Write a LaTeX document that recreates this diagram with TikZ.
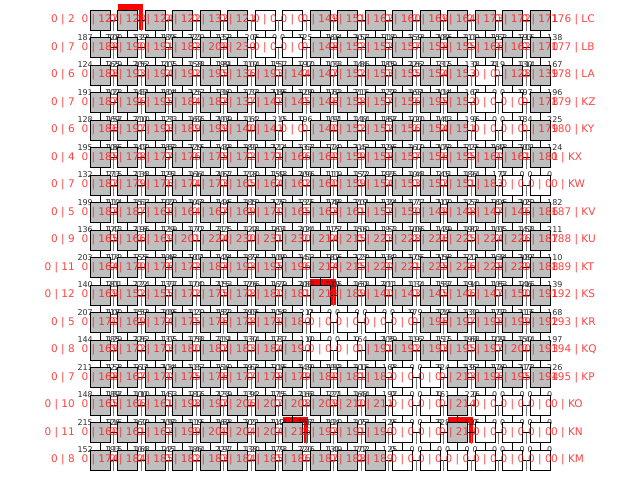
\documentclass[tikz,border=0pt]{standalone}
\usepackage{fontspec}
\setmainfont{DejaVu Sans}
\usetikzlibrary{calc}
\definecolor{boxgray}{RGB}{191,191,191}
\definecolor{labred}{RGB}{255,20,20}
\definecolor{numgray}{RGB}{45,45,45}
\definecolor{tickgray}{RGB}{120,120,120}
\begin{document}
\begin{tikzpicture}[x=1pt,y=-1pt,
  cellbox/.style={draw=black,line width=1pt,minimum size=20pt,inner sep=0pt,outer sep=0pt},
  c1/.style={fill=boxgray}, c0/.style={fill=white},
  redlab/.style={text=labred,text opacity=0.8,font=\fontsize{10.5}{11}\selectfont,inner sep=0pt},
  numlab/.style={text=numgray,font=\fontsize{8}{9}\selectfont,inner sep=0pt},
  link/.style={draw=black,line width=1pt},
  gaptick/.style={draw=tickgray,line width=1pt},
  redmark/.style={fill=red}]
\useasboundingbox (0,0) rectangle (640,480);
\def\rows{%
0/{0 | 2}/{176 | LC}/{127/1,128/1,124/1,122/1,132/1,121/1,0/0,0/0,149/1,151/1,162/1,160/1,169/1,164/1,173/1,172/1,171/1},
1/{0 | 7}/{177 | LB}/{189/1,190/1,191/1,182/1,209/1,230/1,0/0,0/0,148/1,152/1,152/1,157/1,158/1,155/1,166/1,162/1,170/1},
2/{0 | 6}/{178 | LA}/{188/1,193/1,194/1,192/1,195/1,136/1,193/1,144/1,147/1,152/1,153/1,155/1,154/1,153/1,0/0,128/1,139/1},
3/{0 | 7}/{179 | KZ}/{187/1,196/1,195/1,184/1,182/1,137/1,142/1,145/1,146/1,158/1,157/1,156/1,195/1,152/1,0/0,0/0,178/1},
4/{0 | 6}/{180 | KY}/{186/1,197/1,198/1,189/1,199/1,140/1,141/1,0/0,140/1,152/1,152/1,156/1,154/1,151/1,0/0,0/0,179/1},
5/{0 | 4}/{0 | KX}/{185/1,178/1,177/1,176/1,175/1,172/1,171/1,166/1,160/1,159/1,158/1,157/1,156/1,155/1,160/1,161/1,181/1},
6/{0 | 7}/{0 | KW}/{182/1,179/1,176/1,174/1,173/1,165/1,164/1,162/1,160/1,159/1,154/1,153/1,152/1,151/1,183/1,0/0,0/0},
7/{0 | 5}/{187 | KV}/{183/1,187/1,168/1,164/1,167/1,169/1,170/1,165/1,163/1,161/1,152/1,150/1,149/1,148/1,147/1,146/1,186/1},
8/{0 | 9}/{188 | KU}/{165/1,166/1,169/1,201/1,224/1,230/1,231/1,230/1,214/1,215/1,223/1,228/1,226/1,225/1,224/1,226/1,187/1},
9/{0 | 11}/{189 | KT}/{164/1,170/1,176/1,172/1,183/1,193/1,195/1,196/1,214/1,215/1,220/1,221/1,225/1,226/1,228/1,229/1,188/1},
10/{0 | 12}/{192 | KS}/{169/1,152/1,155/1,172/1,175/1,178/1,180/1,181/1,219/1,189/1,140/1,143/1,145/1,146/1,147/1,150/1,191/1},
11/{0 | 5}/{193 | KR}/{170/1,169/1,174/1,175/1,176/1,178/1,179/1,180/1,0/0,0/0,0/0,0/0,196/1,197/1,198/1,199/1,192/1},
12/{0 | 8}/{194 | KQ}/{169/1,172/1,173/1,180/1,182/1,183/1,184/1,190/1,0/0,0/0,191/1,192/1,193/1,195/1,197/1,200/1,193/1},
13/{0 | 7}/{195 | KP}/{168/1,167/1,170/1,175/1,176/1,177/1,178/1,179/1,180/1,181/1,182/1,0/0,0/0,213/1,196/1,195/1,194/1},
14/{0 | 10}/{0 | KO}/{165/1,166/1,161/1,198/1,197/1,206/1,207/1,208/1,209/1,210/1,211/1,0/0,0/0,214/1,0/0,0/0,0/0},
15/{0 | 11}/{0 | KN}/{160/1,161/1,162/1,199/1,200/1,204/1,204/1,216/1,192/1,191/1,190/1,0/0,0/0,215/1,0/0,0/0,0/0},
16/{0 | 8}/{0 | KM}/{174/1,184/1,185/1,182/1,183/1,184/1,185/1,186/1,187/1,188/1,189/1,0/0,0/0,0/0,0/0,0/0,0/0}}
% red marks behind boxes
\foreach \mi/\mj in {1/0,8/10,7/15,13/15}{
  \pgfmathsetmacro{\mx}{100+27.5*\mi}
  \pgfmathsetmacro{\my}{20+27.5*\mj}
  \fill[redmark] (\mx-10,\my-16) rectangle (\mx+15.5,\my-10);
  \fill[redmark] (\mx+11,\my-16) rectangle (\mx+15.5,\my+10);
}
% pass 1: small numbers (behind boxes)
\foreach \j/\lft/\rgt/\vals in \rows {
  \pgfmathsetmacro{\yy}{20+27.5*\j}
  \ifnum\j>0
  \foreach \v/\f [count=\i from 0] in \vals {
    \pgfmathsetmacro{\xx}{100+27.5*\i}
    \pgfmathtruncatemacro{\bn}{\f*(100+mod(\i*41+\j*67+20,130))}
    \pgfmathtruncatemacro{\bm}{\f*(100+mod(\i*53+\j*29+71,130))}
    \node[numlab,anchor=base east] (n-\i-\j) at (\xx-7,\yy-7.2) {\bn};
    \node[numlab,anchor=base west] (m-\i-\j) at (\xx+7,\yy-7.2) {\bm};
  }
  \fi
}
% pass 2: boxes
\foreach \j/\lft/\rgt/\vals in \rows {
  \pgfmathsetmacro{\yy}{20+27.5*\j}
  \foreach \v/\f [count=\i from 0] in \vals {
    \pgfmathsetmacro{\xx}{100+27.5*\i}
    \node[cellbox,c\f] (b-\i-\j) at (\xx,\yy) {};
  }
}
% pass 3: connectors
\foreach \j in {0,...,16}{
  \foreach \i in {0,...,16}{
    \pgfmathtruncatemacro{\jn}{\j+1}
    \pgfmathtruncatemacro{\in}{\i+1}
    \ifnum\j<16 \draw[link] (b-\i-\j.south) -- (b-\i-\jn.north); \fi
    \ifnum\i<16
      \draw[link] (b-\i-\j.east) -- (b-\in-\j.west);
      \coordinate (g-\i-\j) at ($(b-\i-\j.east)!0.5!(b-\in-\j.west)$);
      \draw[gaptick] (g-\i-\j) -- ++(0,11);
    \fi
  }
}
% pass 4: red labels
\foreach \j/\lft/\rgt/\vals in \rows {
  \pgfmathsetmacro{\yy}{20+27.5*\j}
  \node[redlab,anchor=east] (left-\j) at (75,\yy) {\lft};
  \node[redlab,anchor=west] (right-\j) at (551,\yy) {\rgt};
  \foreach \v/\f [count=\i from 0] in \vals {
    \node[redlab] (t-\i-\j) at (b-\i-\j) {0 | \v};
  }
}
\end{tikzpicture}
\end{document}
